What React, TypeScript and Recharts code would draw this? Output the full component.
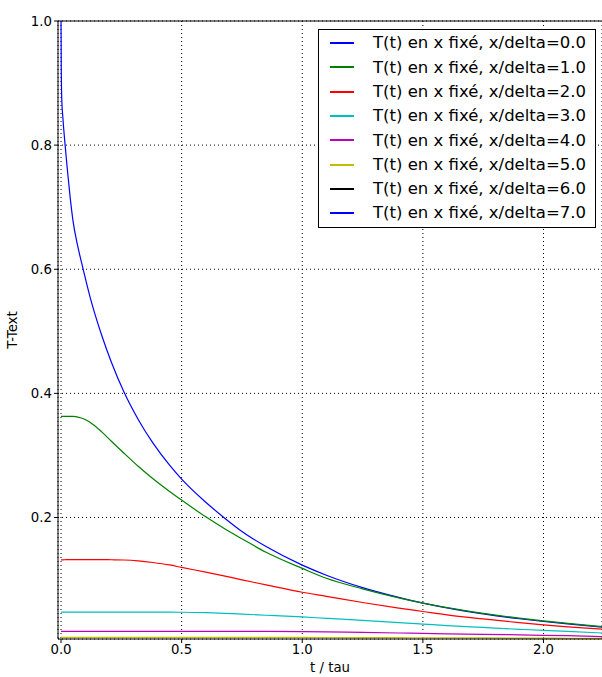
import {
  LineChart,
  Line,
  XAxis,
  YAxis,
  CartesianGrid,
  Legend,
  ReferenceLine,
} from "recharts";

const FONT = "'DejaVu Sans', sans-serif";

// t / tau sample points
const TIME = [
  0, 0.001, 0.003, 0.008, 0.017, 0.025, 0.037, 0.05, 0.07, 0.09, 0.12, 0.17,
  0.21, 0.26, 0.32, 0.38, 0.45, 0.5, 0.6, 0.68, 0.75, 0.85, 1.0, 1.1, 1.25,
  1.4, 1.5, 1.6, 1.75, 1.9, 2.0, 2.1, 2.245,
];

const DEPTHS = [0, 1, 2, 3, 4, 5, 6, 7];

// T-Text at fixed x/delta
const T_X0 = [
  1.0, 0.925, 0.875, 0.843, 0.8, 0.766, 0.719, 0.677, 0.636, 0.603, 0.556,
  0.492, 0.449, 0.403, 0.358, 0.3205, 0.2842, 0.2618, 0.2245, 0.1985, 0.1775,
  0.1531, 0.1232, 0.107, 0.087, 0.0712, 0.062, 0.0543, 0.0447, 0.0368, 0.0324,
  0.0285, 0.0234,
];
const T_X1 = [
  0.363, 0.363, 0.363, 0.363, 0.363, 0.363, 0.363, 0.3628, 0.3618, 0.3595,
  0.3535, 0.3375, 0.3225, 0.304, 0.2825, 0.2628, 0.242, 0.228, 0.201, 0.1814,
  0.1656, 0.144, 0.118, 0.102, 0.085, 0.0705, 0.062, 0.0547, 0.0455, 0.0378,
  0.0333, 0.0294, 0.024,
];
const T_X2 = [
  0.1318, 0.1318, 0.1318, 0.1318, 0.1319, 0.132, 0.132, 0.1321, 0.1322,
  0.1322, 0.1322, 0.1321, 0.1319, 0.1315, 0.13, 0.1275, 0.1235, 0.1195, 0.112,
  0.1055, 0.0995, 0.0915, 0.0795, 0.073, 0.063, 0.054, 0.0485, 0.043, 0.0365,
  0.0305, 0.0269, 0.0238, 0.02,
];
const T_X3 = [
  0.0474, 0.0474, 0.0474, 0.0474, 0.0474, 0.0474, 0.0474, 0.0474, 0.0474,
  0.0474, 0.0474, 0.0474, 0.0474, 0.0474, 0.0474, 0.0474, 0.0474, 0.0473,
  0.0466, 0.0455, 0.0443, 0.0425, 0.0397, 0.0375, 0.0342, 0.0307, 0.0283,
  0.0258, 0.0228, 0.0198, 0.018, 0.0164, 0.0138,
];
const T_X4 = [
  0.0166, 0.0166, 0.0166, 0.0166, 0.0166, 0.0166, 0.0166, 0.0166, 0.0166,
  0.0166, 0.0166, 0.0166, 0.0166, 0.0166, 0.0166, 0.0166, 0.0166, 0.0166,
  0.0166, 0.0166, 0.0166, 0.0165, 0.0161, 0.0156, 0.0148, 0.0139, 0.0132,
  0.0126, 0.0117, 0.0108, 0.0101, 0.0095, 0.008,
];
const T_X5 = [
  0.0067, 0.0067, 0.0067, 0.0067, 0.0067, 0.0067, 0.0067, 0.0067, 0.0067,
  0.0067, 0.0067, 0.0067, 0.0067, 0.0067, 0.0067, 0.0067, 0.0067, 0.0067,
  0.0067, 0.0067, 0.0067, 0.0067, 0.0067, 0.0066, 0.0065, 0.0063, 0.0062,
  0.0061, 0.0059, 0.0057, 0.0056, 0.0054, 0.0052,
];
const T_X6 = [
  0.0025, 0.0025, 0.0025, 0.0025, 0.0025, 0.0025, 0.0025, 0.0025, 0.0025,
  0.0025, 0.0025, 0.0025, 0.0025, 0.0025, 0.0025, 0.0025, 0.0025, 0.0025,
  0.0025, 0.0025, 0.0025, 0.0025, 0.0025, 0.0025, 0.0025, 0.0024, 0.0024,
  0.0024, 0.0023, 0.0023, 0.0023, 0.0022, 0.0022,
];
const T_X7 = [
  0.0009, 0.0009, 0.0009, 0.0009, 0.0009, 0.0009, 0.0009, 0.0009, 0.0009,
  0.0009, 0.0009, 0.0009, 0.0009, 0.0009, 0.0009, 0.0009, 0.0009, 0.0009,
  0.0009, 0.0009, 0.0009, 0.0009, 0.0009, 0.0009, 0.0009, 0.0009, 0.0009,
  0.0009, 0.0009, 0.0009, 0.0009, 0.0009, 0.0009,
];

const SERIES = [T_X0, T_X1, T_X2, T_X3, T_X4, T_X5, T_X6, T_X7];

// matplotlib classic colour cycle
const COLORS = [
  "#0000ff",
  "#008000",
  "#ff0000",
  "#00bfbf",
  "#bf00bf",
  "#bfbf00",
  "#000000",
  "#0000ff",
];

const X_TICKS = [0, 0.5, 1.0, 1.5, 2.0];
const Y_TICKS = [0.2, 0.4, 0.6, 0.8, 1.0];

const data = TIME.map((t, i) => {
  const row: Record<string, number> = { t };
  SERIES.forEach((s, k) => {
    row[`x${k}`] = s[i];
  });
  return row;
});

function YTitle(props: any) {
  const { viewBox } = props;
  const cy = viewBox.y + viewBox.height / 2;
  return (
    <text
      x={12}
      y={cy}
      transform={`rotate(-90, 12, ${cy})`}
      textAnchor="middle"
      dominantBaseline="central"
      fontFamily={FONT}
      fontSize={13.3}
      fill="#000"
    >
      T-Text
    </text>
  );
}

const ROW = 24.3;

function renderLegend(props: any) {
  const { payload } = props;
  return (
    <div
      style={{
        border: "1px solid #000",
        background: "#fff",
        width: 276,
        padding: "1px 0 2px",
        fontFamily: FONT,
        fontSize: 16.5,
        color: "#000",
        boxSizing: "content-box",
      }}
    >
      {payload.map((entry: any, i: number) => {
        const h = Math.round((i + 1) * ROW) - Math.round(i * ROW);
        return (
          <div
            key={entry.value}
            style={{ position: "relative", height: h }}
          >
            <span
              style={{
                position: "absolute",
                left: 11,
                top: Math.floor(h / 2) - 1,
                width: 24,
                height: 2,
                background: COLORS[i],
              }}
            />
            <span
              style={{
                position: "absolute",
                left: 54,
                top: 0,
                lineHeight: `${h}px`,
                whiteSpace: "nowrap",
              }}
            >
              {entry.value}
            </span>
          </div>
        );
      })}
    </div>
  );
}

export default function App() {
  return (
    <div style={{ position: "absolute", left: 0, top: 0, background: "#fff" }}>
      <LineChart
        width={602}
        height={677}
        data={data}
        margin={{ top: 21, right: 0, bottom: 0, left: 0 }}
        style={{ fontFamily: FONT }}
      >
        <CartesianGrid
          stroke="#000"
          strokeDasharray="1 3"
          strokeWidth={1}
        />
        <XAxis
          dataKey="t"
          type="number"
          domain={[-0.0125, 2.2425]}
          allowDataOverflow
          ticks={X_TICKS}
          tickFormatter={(v: number) => v.toFixed(1)}
          height={38}
          tickSize={4}
          axisLine={{ stroke: "#000" }}
          tickLine={{ stroke: "#000" }}
          tick={{ fill: "#000", fontSize: 13.3, fontFamily: FONT }}
          label={{
            value: "t / tau",
            position: "insideBottom",
            offset: 5,
            fill: "#000",
            fontSize: 13.3,
            fontFamily: FONT,
          }}
        />
        <YAxis
          type="number"
          domain={[0.0042, 1]}
          allowDataOverflow
          ticks={Y_TICKS}
          tickFormatter={(v: number) => v.toFixed(1)}
          width={58}
          tickSize={4}
          axisLine={{ stroke: "#000" }}
          tickLine={{ stroke: "#000" }}
          tick={{ fill: "#000", fontSize: 13.3, fontFamily: FONT }}
          label={<YTitle />}
        />
        <ReferenceLine y={1} stroke="#000" strokeWidth={1} />
        {DEPTHS.map((d, k) => (
          <Line
            key={d}
            dataKey={`x${k}`}
            name={`T(t) en x fixé, x/delta=${d.toFixed(1)}`}
            type="monotone"
            stroke={COLORS[k]}
            strokeWidth={1.2}
            dot={false}
            activeDot={false}
            isAnimationActive={false}
          />
        ))}
        <Legend
          layout="vertical"
          align="center"
          verticalAlign="middle"
          content={renderLegend}
          wrapperStyle={{ left: 318, top: 29, width: 278 }}
        />
      </LineChart>
    </div>
  );
}
